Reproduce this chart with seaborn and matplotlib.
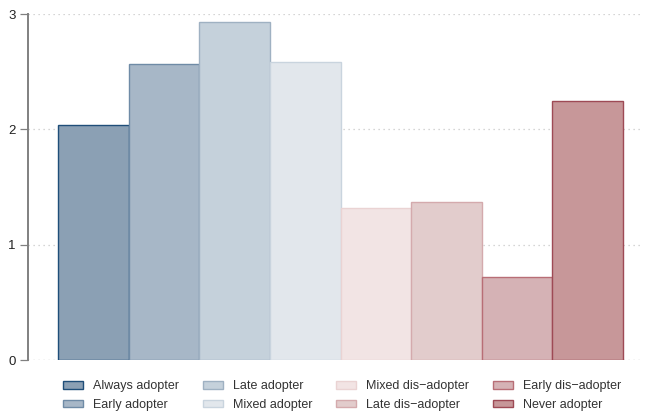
import matplotlib
matplotlib.use('Agg')
from matplotlib import pyplot as plt
from matplotlib.patches import Patch
import seaborn as sns
import pandas as pd

groups = ['Always adopter', 'Early adopter', 'Late adopter', 'Mixed adopter',
          'Mixed dis\u2212adopter', 'Late dis\u2212adopter', 'Early dis\u2212adopter', 'Never adopter']
values = [2.04, 2.57, 2.93, 2.58, 1.32, 1.37, 0.72, 2.245]

fills = ['#8ba0b4', '#a7b7c7', '#c5d1db', '#e2e7ec',
         '#f2e4e4', '#e2cccc', '#d5b2b5', '#c79799']
edges = ['#1f4e79', '#6f8ba6', '#9fb1c2', '#c9d4de',
         '#ead3d3', '#d4aaad', '#b86e76', '#9e4a55']

df = pd.DataFrame({'group': groups, 'value': values})

sns.set_style('white')
plt.rcParams['font.family'] = ['Liberation Sans', 'DejaVu Sans']

fig = plt.figure(figsize=(6.45, 4.11), dpi=100)
ax = fig.add_axes([28 / 645, 51 / 411, 612 / 645, 346 / 411])

sns.barplot(data=df, x='group', y='value', hue='group', palette=dict(zip(groups, fills)),
            width=1.0, legend=False, saturation=1, ax=ax, zorder=3)

for patch, ec in zip(ax.patches, edges):
    patch.set_edgecolor(ec)
    patch.set_linewidth(1.0)

ax.set_ylim(0, 3)
ax.set_xlim(-0.925, 7.74)
ax.set_yticks([0, 1, 2, 3])
ax.set_xticks([])
ax.set_xlabel('')
ax.set_ylabel('')
ax.grid(axis='y', linestyle=(0, (1, 3)), color='#c8c8c8', linewidth=0.9, zorder=0)
ax.axhline(0, linestyle=(0, (1, 3)), color='#c8c8c8', linewidth=0.9, zorder=0)

for side in ['top', 'right', 'bottom']:
    ax.spines[side].set_visible(False)
ax.spines['left'].set_color('#808080')
ax.spines['left'].set_linewidth(1.4)
ax.tick_params(axis='y', length=6, width=0.9, color='#808080', labelsize=9.5,
               labelcolor='#222222', pad=3, left=True)

handles = [Patch(facecolor=f, edgecolor=e, linewidth=1.0) for f, e in zip(fills, edges)]
fig.legend(handles, groups, ncol=4, loc='upper left', bbox_to_anchor=(63 / 645, 1 - 380 / 411),
           frameon=False, fontsize=9, handlelength=1.6, handleheight=0.6, borderpad=0,
           borderaxespad=0, columnspacing=1.9, labelspacing=0.55, handletextpad=0.8,
           labelcolor='#333333')

fig.savefig('out.png', dpi=100)
plt.close(fig)
